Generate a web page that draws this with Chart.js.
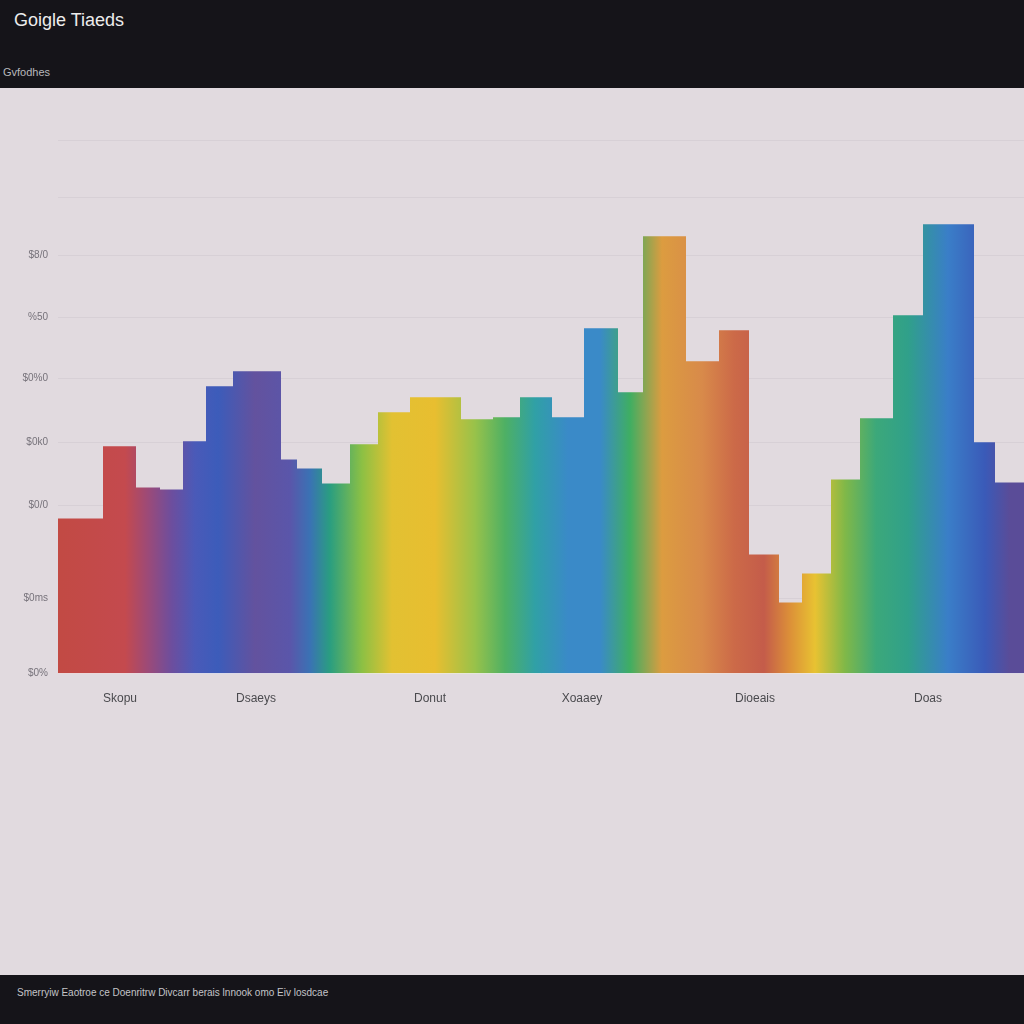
<!DOCTYPE html>
<html>
<head>
<meta charset="utf-8">
<script src="https://cdn.jsdelivr.net/npm/chart.js@4.4.1/dist/chart.umd.min.js"></script>
<style>
  html, body { margin: 0; padding: 0; }
  body {
    width: 1024px; height: 1024px; overflow: hidden;
    background: #151419; position: relative;
    font-family: "Liberation Sans", "DejaVu Sans", sans-serif;
  }
  #title { position: absolute; left: 14px; top: 10px; font-size: 18px; color: #ececec; }
  #subtitle { position: absolute; left: 3px; top: 66px; font-size: 11px; color: #b8b8bc; }
  #panel { position: absolute; left: 0; top: 88px; width: 1024px; height: 887px; background: #e1dadf; }
  #chart-box { position: absolute; left: 0; top: -11px; width: 1024px; height: 669px; }
  #footer { position: absolute; left: 17px; top: 987px; font-size: 10px; color: #c4c4c8; }
</style>
</head>
<body>
<div id="title">Goigle Tiaeds</div>
<div id="subtitle">Gvfodhes</div>
<div id="panel">
  <div id="chart-box"><canvas id="trend-chart"></canvas></div>
</div>
<div id="footer">Smerryiw Eaotroe ce Doenritrw Divcarr berais lnnook omo Eiv losdcae</div>

<script>
// bin edges along the x axis (one more than the values)
var binEdges = [0, 45, 78, 102, 125, 148, 175, 223, 239, 264, 292, 320, 352, 403, 435, 462,
    494, 526, 560, 585, 628, 661, 691, 721, 744, 773, 802, 835, 865, 916, 937, 966];
// value of each bin
var binValues = [155, 227, 186, 184, 232, 287, 302, 214, 205, 190, 229, 261, 276, 254, 256, 276,
    256, 345, 281, 437, 312, 343, 119, 71, 100, 194, 255, 358, 449, 231, 191];

// x axis labels and where they sit
var xTickValues = [62, 198, 372, 524, 697, 870];
var xTickLabels = ["Skopu", "Dsaeys", "Donut", "Xoaaey", "Dioeais", "Doas"];

// y axis ticks (last two only get a grid line)
var yTickValues = [0, 75, 168, 231, 295, 356, 418, 476, 533];
var yTickLabels = ["$0%", "$0ms", "$0/0", "$0k0", "$0%0", "%50", "$8/0", "", ""];

// rainbow colour stops, placed in x axis units
var gradientStops = [
    [2, "#c24a44"], [67, "#c44a4e"], [90, "#9c4a78"], [114, "#6c4e9e"], [137, "#4a5ab8"],
    [160, "#3c5cba"], [197, "#63529e"], [232, "#5a56aa"], [252, "#3a72b4"], [272, "#2a9e80"],
    [304, "#8cc044"], [334, "#e2c132"], [377, "#e8be30"], [417, "#98c24a"], [447, "#4eb064"],
    [477, "#30a0a6"], [510, "#3a8ac8"], [542, "#3a8ac8"], [572, "#3fae62"], [604, "#dc9c40"],
    [644, "#d88a4a"], [676, "#cc6a48"], [706, "#c45c4a"], [732, "#dc9038"], [757, "#e8c232"],
    [787, "#80b848"], [818, "#3ca87a"], [850, "#30a08a"], [890, "#3a7ec8"], [927, "#3a5ab8"],
    [952, "#5a4c98"]
];

/**
 * Horizontal rainbow gradient across the chart area
 */
function rainbowFill(context) {
    let chart = context.chart;
    let area = chart.chartArea;
    if (!area)
        return null;

    let xScale = chart.scales.x;
    let grad = chart.ctx.createLinearGradient(area.left, 0, area.right, 0);
    let width = area.right - area.left;
    for (let stop of gradientStops) {
        let pos = (xScale.getPixelForValue(stop[0]) - area.left) / width;
        grad.addColorStop(Math.min(1, Math.max(0, pos)), stop[1]);
    }
    return grad;
}

// stepped points: each edge carries the value of the bin to its right
let points = binEdges.map((x, i) => ({ x: x, y: binValues[Math.min(i, binValues.length - 1)] }));

let ctx = document.getElementById('trend-chart');
new Chart(ctx, {
    type: 'line',
    data: {
        datasets: [{
            data: points,
            stepped: 'before',
            fill: 'origin',
            backgroundColor: rainbowFill,
            borderWidth: 0,
            borderColor: 'rgba(0,0,0,0)',
            pointRadius: 0,
            pointHoverRadius: 0
        }]
    },
    options: {
        responsive: true,
        maintainAspectRatio: false,
        animation: false,
        layout: { padding: { top: 5, bottom: 22, left: 0, right: 0 } },
        plugins: {
            legend: { display: false },
            tooltip: { enabled: false }
        },
        scales: {
            x: {
                type: 'linear',
                min: 0,
                max: 966,
                afterBuildTicks: function (scale) {
                    scale.ticks = xTickValues.map(v => ({ value: v }));
                },
                ticks: {
                    autoSkip: false,
                    maxRotation: 0,
                    padding: 18,
                    color: '#4a4a4e',
                    font: { family: "Liberation Sans", size: 12 },
                    callback: function (value) {
                        let i = xTickValues.indexOf(value);
                        return i === -1 ? '' : xTickLabels[i];
                    }
                },
                grid: { display: false, drawTicks: false },
                border: { display: true, color: 'rgba(255,255,255,0.6)', width: 1 }
            },
            y: {
                type: 'linear',
                min: 0,
                max: 580,
                afterBuildTicks: function (scale) {
                    scale.ticks = yTickValues.map(v => ({ value: v }));
                },
                afterFit: function (scale) {
                    scale.width = 58;
                },
                ticks: {
                    autoSkip: false,
                    padding: 10,
                    color: '#76727a',
                    font: { family: "Liberation Sans", size: 10 },
                    callback: function (value) {
                        let i = yTickValues.indexOf(value);
                        return i === -1 ? '' : yTickLabels[i];
                    }
                },
                grid: {
                    color: 'rgba(205,196,203,0.45)',
                    lineWidth: 1,
                    drawTicks: false
                },
                border: { display: false }
            }
        }
    }
});
</script>
</body>
</html>
